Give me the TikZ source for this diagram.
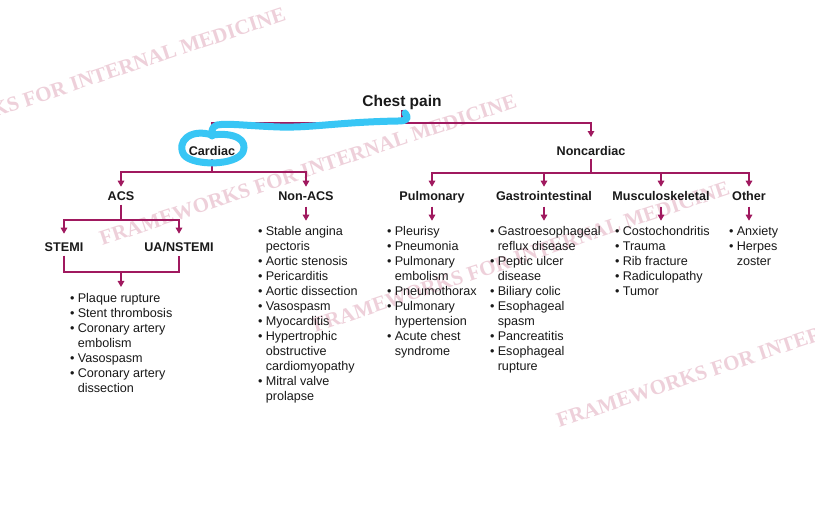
\documentclass[tikz,border=0pt]{standalone}
\usepackage{fontspec}
\setmainfont{Liberation Sans}
\newfontfamily\wmfont{Liberation Serif}
\usetikzlibrary{arrows.meta}
\definecolor{lin}{RGB}{160,25,95}
\definecolor{txt}{RGB}{25,25,25}
\definecolor{wm}{RGB}{238,208,218}
\definecolor{scrib}{RGB}{56,198,245}
\newcommand\bu{\makebox[7.6pt][l]{\textbullet}}
\newcommand\cu{\hspace*{7.6pt}}
\begin{document}
\begin{tikzpicture}[x=1pt,y=-1pt,
  hd/.style={font=\fontsize{12.6}{15}\selectfont\bfseries, inner sep=0pt, anchor=base, text=txt},
  lst/.style={font=\fontsize{12.6}{15}\selectfont, inner sep=0pt, anchor=base west, align=left, text=txt},
  conn/.style={draw=lin, line width=1.4pt},
  arr/.style={conn, -{Triangle[width=6.5pt,length=6pt]}},
  wmk/.style={font=\wmfont\bfseries\fontsize{21}{21}\selectfont, text=wm, rotate=18.5, inner sep=0pt},
  scribble/.style={draw=scrib, line width=7pt, line cap=round, line join=round}
]
\useasboundingbox[fill=white] (0,0) rectangle (815,507);

% watermarks
\begin{scope}
\clip (0,0) rectangle (815,507);
\node[wmk] (wm1) at (77,83) {FRAMEWORKS FOR INTERNAL MEDICINE};
\node[wmk] (wm2) at (308,170) {FRAMEWORKS FOR INTERNAL MEDICINE};
\node[wmk] (wm3) at (521,257) {FRAMEWORKS FOR INTERNAL MEDICINE};
\node[wmk] (wm4) at (765,352) {FRAMEWORKS FOR INTERNAL MEDICINE};
\end{scope}

% headings
\node[hd, font=\fontsize{15.5}{18}\selectfont\bfseries] (cp) at (402,106.5) {Chest pain};
\node[hd] (cardiac) at (212,155) {Cardiac};
\node[hd] (noncard) at (591,155) {Noncardiac};
\node[hd] (acs) at (121,200.7) {ACS};
\node[hd] (nonacs) at (306,200.7) {Non-ACS};
\node[hd] (pulm) at (432,200.7) {Pulmonary};
\node[hd] (gi) at (544,200.7) {Gastrointestinal};
\node[hd] (msk) at (661,200.7) {Musculoskeletal};
\node[hd] (other) at (749,200.7) {Other};
\node[hd] (stemi) at (64,251.7) {STEMI};
\node[hd] (ua) at (179,251.7) {UA/NSTEMI};

% lists (base anchor = baseline of the last line)
\node[lst] (acsl) at (70,392.3) {\bu Plaque rupture\\\bu Stent thrombosis\\\bu Coronary artery\\\cu embolism\\\bu Vasospasm\\\bu Coronary artery\\\cu dissection};
\node[lst] (nonacsl) at (258,400.5) {\bu Stable angina\\\cu pectoris\\\bu Aortic stenosis\\\bu Pericarditis\\\bu Aortic dissection\\\bu Vasospasm\\\bu Myocarditis\\\bu Hypertrophic\\\cu obstructive\\\cu cardiomyopathy\\\bu Mitral valve\\\cu prolapse};
\node[lst] (pulml) at (387,355.5) {\bu Pleurisy\\\bu Pneumonia\\\bu Pulmonary\\\cu embolism\\\bu Pneumothorax\\\bu Pulmonary\\\cu hypertension\\\bu Acute chest\\\cu syndrome};
\node[lst] (gil) at (490,370.5) {\bu Gastroesophageal\\\cu reflux disease\\\bu Peptic ulcer\\\cu disease\\\bu Biliary colic\\\bu Esophageal\\\cu spasm\\\bu Pancreatitis\\\bu Esophageal\\\cu rupture};
\node[lst] (mskl) at (615,295.5) {\bu Costochondritis\\\bu Trauma\\\bu Rib fracture\\\bu Radiculopathy\\\bu Tumor};
\node[lst] (otherl) at (729,265.5) {\bu Anxiety\\\bu Herpes\\\cu zoster};

% junctions
\coordinate (j0) at (402,123);
\coordinate (j1) at (212,172);
\coordinate (j2) at (591,173);
\coordinate (j3) at (121,220);
\coordinate (j5) at (121,272);

% connectors
\draw[conn] (cp.south) -- (j0);
\draw[arr] (j0) -| ([yshift=18pt]cardiac.base);
\draw[arr] (j0) -| ([yshift=18pt]noncard.base);

\draw[conn] ([yshift=-4pt]cardiac.base) -- (j1);
\draw[arr] (j1) -| ([yshift=14pt]acs.base);
\draw[arr] (j1) -| ([yshift=14pt]nonacs.base);

\draw[conn] ([yshift=-4pt]noncard.base) -- (j2);
\draw[arr] (j2) -| ([yshift=14pt]pulm.base);
\draw[arr] (j2) -| ([yshift=14pt]gi.base);
\draw[arr] (j2) -| ([yshift=14pt]msk.base);
\draw[arr] (j2) -| ([yshift=14pt]other.base);

\draw[conn] ([yshift=-4pt]acs.base) -- (j3);
\draw[arr] (j3) -| ([yshift=18pt]stemi.base);
\draw[arr] (j3) -| ([yshift=18pt]ua.base);

\draw[conn] ([yshift=-4pt]stemi.base) |- (j5) -| ([yshift=-4pt]ua.base);
\draw[arr, shorten >=6pt] (j5) -- (j5 |- acsl.north);

\foreach \n in {nonacs,pulm,gi,msk,other}
  \draw[arr] ([yshift=-6pt]\n.base) -- ([yshift=-20pt]\n.base);

% hand-drawn blue annotation
\draw[scribble] (405,113) .. controls (409,118) and (408,121) .. (398,121)
  .. controls (340,122) and (310,128) .. (280,127)
  .. controls (250,126) and (228,123) .. (217,125)
  .. controls (211,127) and (212,132) .. (212,136);
\draw[scribble] (212,135) .. controls (190,128) and (176,142) .. (184,155)
  .. controls (193,166) and (236,166) .. (243,152)
  .. controls (248,140) and (235,132) .. (212,135);
\end{tikzpicture}
\end{document}
